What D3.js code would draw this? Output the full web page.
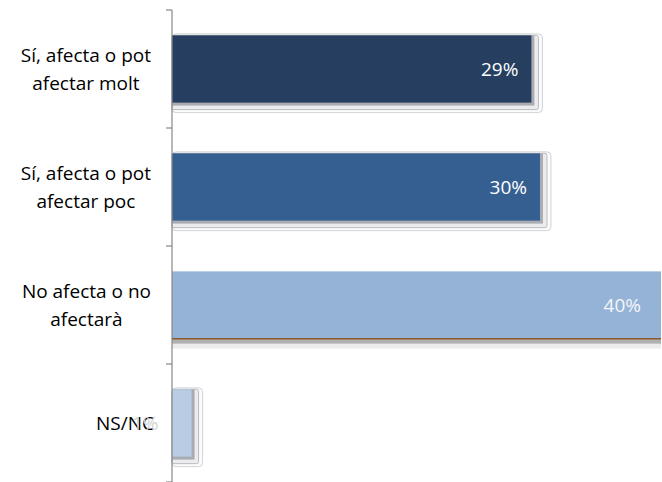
<!DOCTYPE html>
<html><head><meta charset="utf-8">
<script src="https://cdn.jsdelivr.net/npm/d3@7"></script>
<style>
html,body{margin:0;padding:0;background:#fff;}
svg{display:block;font-family:"Open Sans","Noto Sans",sans-serif;}
</style></head>
<body>
<svg id="c" width="662" height="482"></svg>
<script>
const categories = ["Sí, afecta o pot afectar molt", "Sí, afecta o pot afectar poc", "No afecta o no afectarà", "NS/NC"];
const categoryLines = [["Sí, afecta o pot", "afectar molt"], ["Sí, afecta o pot", "afectar poc"], ["No afecta o no", "afectarà"], ["NS/NC"]];
const values = [29.4, 30.1, 40.0, 1.6];
const valueLabels = ["29%", "30%", "40%", "1%"];
const barColors = ["#263F60", "#365F91", "#95B3D7", "#B8CCE4"];

const svg = d3.select("#c");
const x0 = 172, xMax = 661;
const x = d3.scaleLinear().domain([0, 40]).range([x0, xMax]);
const y = d3.scaleBand().domain(categories).range([10, 482]).paddingInner(0.43).paddingOuter(0.215);
const yb = d3.scaleBand().domain(categories).range([10, 482]);

// shadows / bevel outlines
const g = svg.append("g");
categories.forEach((c, i) => {
  const bx = x(0), bw = x(values[i]) - x(0), by = y(c), bh = y.bandwidth();
  const clipRight = x(values[i]) >= xMax - 1;
  if (!clipRight) {
    g.append("rect").attr("x", bx).attr("y", by - 1.5).attr("width", bw + 11).attr("height", bh + 11.5)
      .attr("rx", 4).attr("fill", "#fbfbfb").attr("stroke", "#cfd3d8").attr("stroke-width", 1);
    g.append("rect").attr("x", bx).attr("y", by).attr("width", bw + 7).attr("height", bh + 7)
      .attr("rx", 2).attr("fill", "#ececec").attr("stroke", "#b8bcc2").attr("stroke-width", 1);
    g.append("rect").attr("x", bx).attr("y", by).attr("width", bw + 3).attr("height", bh + 3)
      .attr("fill", "#a9adb3");
  } else {
    g.append("rect").attr("x", bx).attr("y", by + bh).attr("width", bw).attr("height", 10).attr("fill", "#ececec");
    g.append("rect").attr("x", bx).attr("y", by + bh).attr("width", bw).attr("height", 5).attr("fill", "#b0b0b0");
  }
});

// bars
svg.append("g").selectAll("rect").data(categories).join("rect")
  .attr("x", x(0))
  .attr("y", d => y(d))
  .attr("width", (d, i) => x(values[i]) - x(0))
  .attr("height", y.bandwidth())
  .attr("fill", (d, i) => barColors[i]);

// brown bottom edge on third bar
svg.append("line").attr("x1", x(0)).attr("x2", x(values[2])).attr("y1", y(categories[2]) + y.bandwidth()).attr("y2", y(categories[2]) + y.bandwidth())
  .attr("stroke", "#8a5a2e").attr("stroke-width", 1.5);

// axis
const ag = svg.append("g").attr("transform", `translate(${x0},0)`);
const bounds = [10].concat(categories.map(c => yb(c) + yb.bandwidth()));
ag.selectAll("line.tk").data(bounds).join("line").attr("class", "tk")
  .attr("x1", -6).attr("x2", 0).attr("y1", d => d).attr("y2", d => d)
  .attr("stroke", "#888").attr("stroke-width", 1.2);
ag.append("line").attr("x1", 0).attr("x2", 0).attr("y1", 10).attr("y2", 482).attr("stroke", "#888").attr("stroke-width", 1.2);

// category labels
const lg = svg.append("g").attr("font-size", 19).attr("fill", "#000");
categories.forEach((c, i) => {
  const lines = categoryLines[i];
  const cy = yb(c) + yb.bandwidth() / 2;
  const lh = 28;
  const t = lg.append("text").attr("text-anchor", "middle");
  const spans = lines.map((l, j) => t.append("tspan").text(l));
  const widths = spans.map(s => s.node().getComputedTextLength());
  const maxW = d3.max(widths);
  const right = lines.length > 1 ? 151 : 154;
  const cx = right - maxW / 2;
  spans.forEach((s, j) => s.attr("x", cx).attr("y", cy - (lines.length - 1) * lh / 2 + j * lh).attr("dy", "0.35em"));
});

// value labels
const vg = svg.append("g").attr("font-size", 19).attr("text-anchor", "end");
categories.forEach((c, i) => {
  const cy = y(c) + y.bandwidth() / 2;
  let xe = x(values[i]) - 13;
  let col = "#ffffff";
  if (i === 2) { xe = x(values[i]) - 20; col = "#f4f6f9"; }
  if (i === 3) { xe = x(values[i]) - 33; col = "#d4d4d4"; }
  vg.append("text").attr("x", xe).attr("y", cy).attr("dy", "0.35em").attr("fill", col).text(valueLabels[i]);
});
</script>
</body></html>
